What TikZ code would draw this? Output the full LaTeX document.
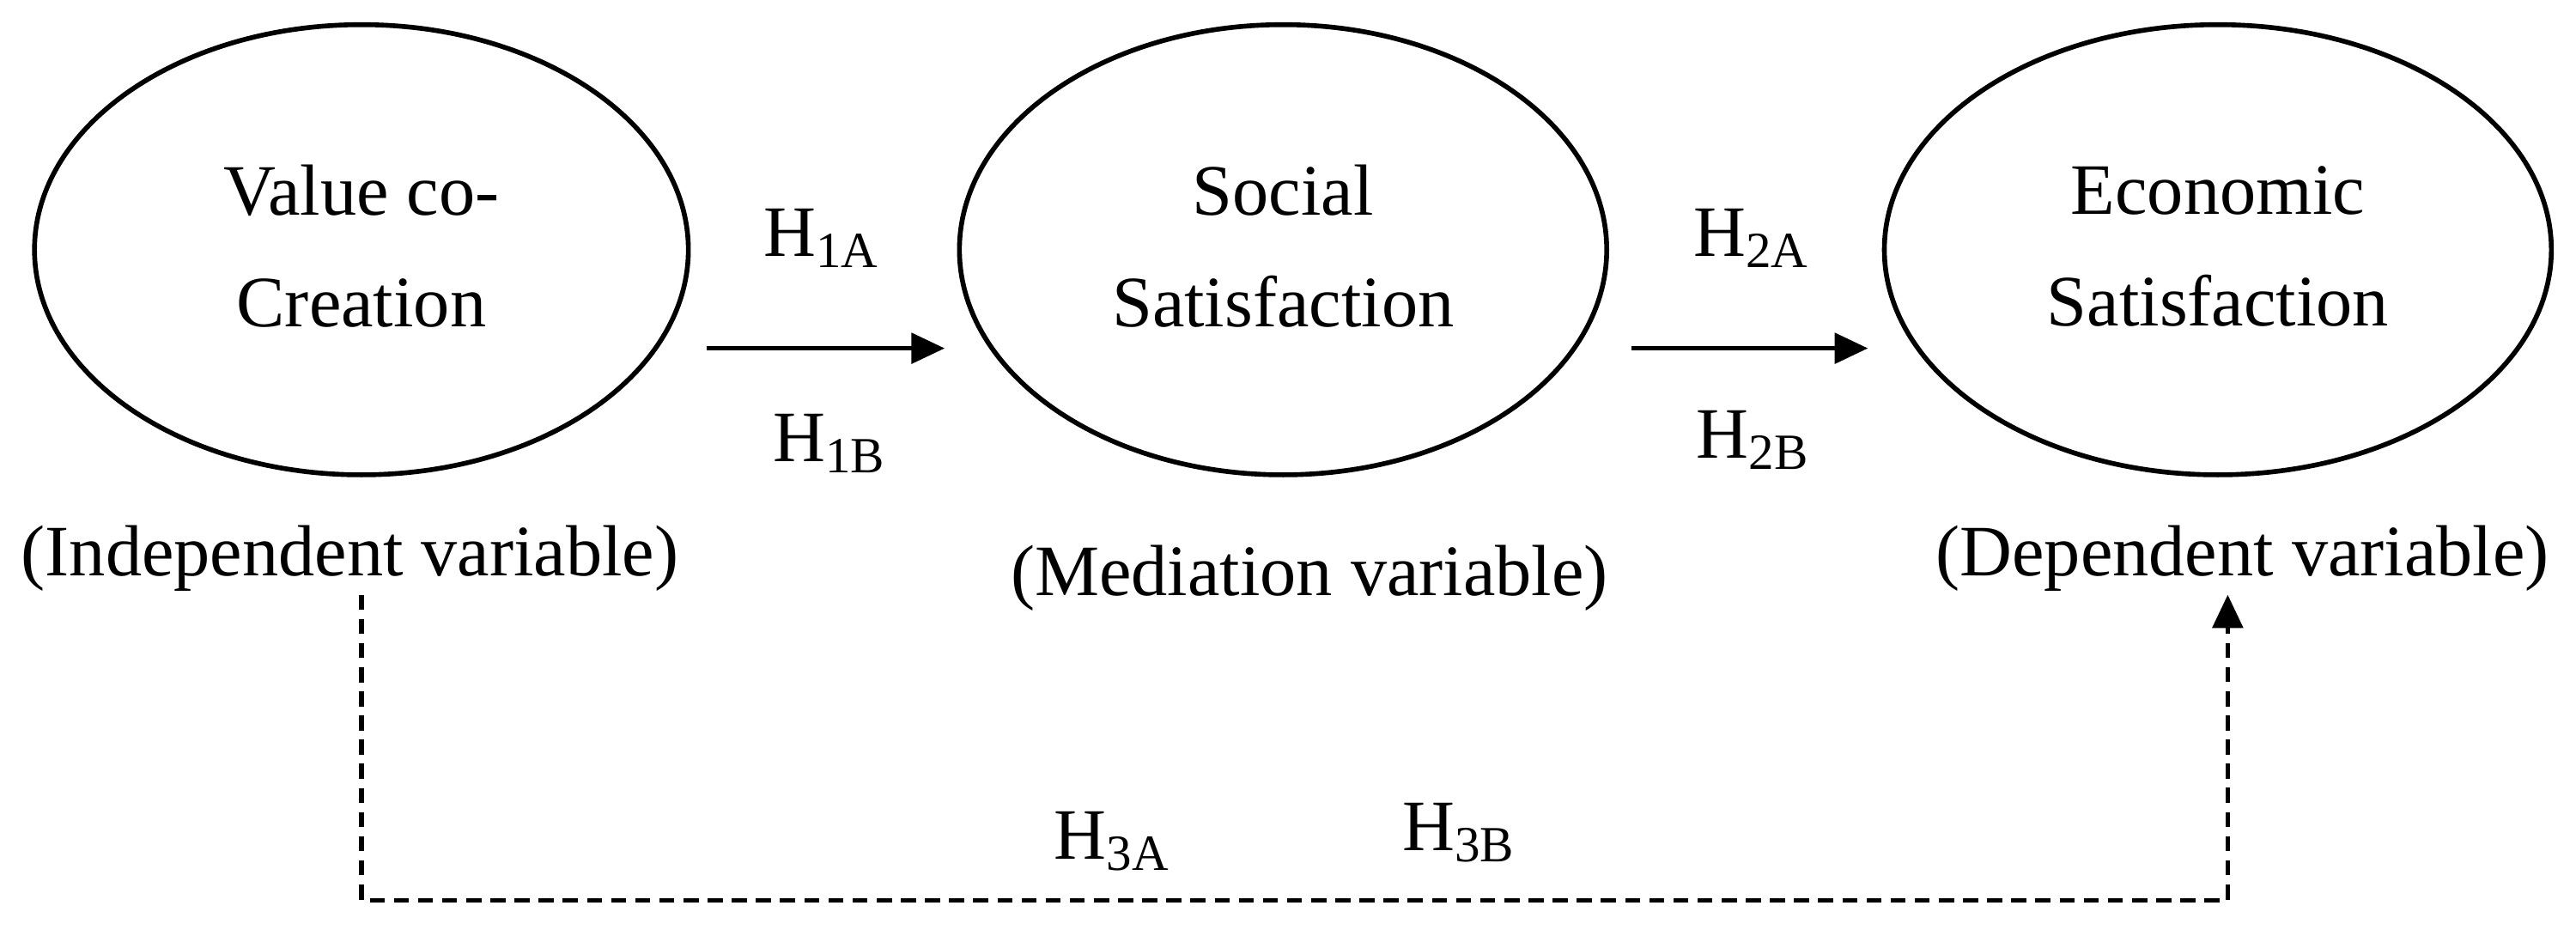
\documentclass[tikz,border=0pt]{standalone}
\usepackage{fontspec}
\setmainfont{Liberation Serif}
\usetikzlibrary{shapes.geometric,arrows.meta}
\begin{document}
\begin{tikzpicture}[x=0.01913cm,y=-0.01913cm,
  txt/.style={font=\fontsize{24}{37}\selectfont,align=center,inner sep=0pt},
  oval/.style={line width=1.6pt},
  arr/.style={line width=1.5pt,-{Triangle[length=11pt,width=10pt]}},
  darr/.style={line width=1.5pt,dash pattern=on 5pt off 3pt,-{Triangle[length=11pt,width=10pt]}}]
\useasboundingbox (0,0) rectangle (1568,566);
\draw[oval] (220,152) ellipse [x radius=199,y radius=137];
\draw[oval] (781,152) ellipse [x radius=197,y radius=137];
\draw[oval] (1350,152) ellipse [x radius=203,y radius=137];
\node[txt] (a) at (220,150) {Value co-\\Creation};
\node[txt] (b) at (781,150) {Social\\Satisfaction};
\node[txt] (c) at (1350,150) {Economic\\Satisfaction};
\coordinate (a1) at (430,212); \coordinate (b0) at (575,212);
\coordinate (b1) at (993,212); \coordinate (c0) at (1137,212);
\draw[arr] (a1) -- (b0);
\draw[arr] (b1) -- (c0);
\node[txt] (h1a) at (500,145) {H\textsubscript{1A}};
\node[txt] (h1b) at (505,270) {H\textsubscript{1B}};
\node[txt] (h2a) at (1066,145) {H\textsubscript{2A}};
\node[txt] (h2b) at (1067,268) {H\textsubscript{2B}};
\node[txt] (ia) at (213,340) {(Independent variable)};
\node[txt] (ma) at (797,352) {(Mediation variable)};
\node[txt] (da) at (1365,340) {(Dependent variable)};
\coordinate (s) at (220,362); \coordinate (e) at (1356,362);
\draw[darr] (s) -- (220,548) -- (1356,548) -- (e);
\node[txt] (h3a) at (677,512) {H\textsubscript{3A}};
\node[txt] (h3b) at (888,507) {H\textsubscript{3B}};
\end{tikzpicture}
\end{document}
